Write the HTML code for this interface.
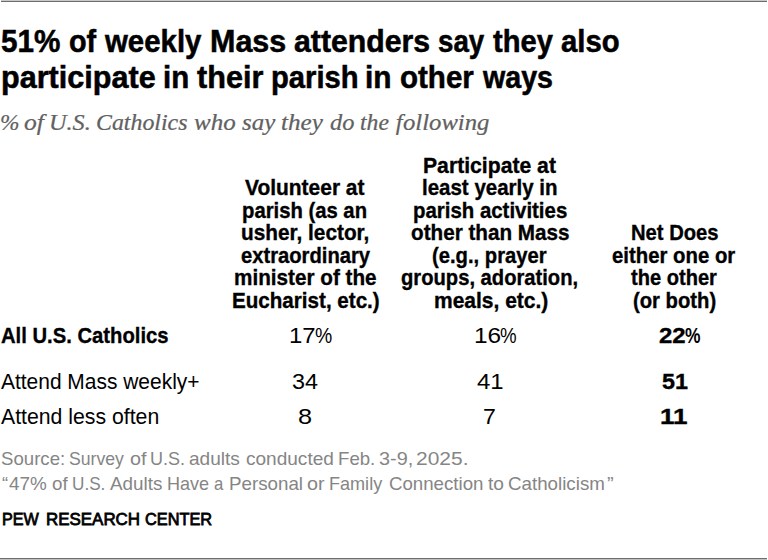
<!DOCTYPE html>
<html><head><meta charset="utf-8"><style>
html,body{margin:0;padding:0;background:#fff;}
body{width:768px;height:560px;position:relative;overflow:hidden;}
.t{position:absolute;white-space:nowrap;}
.ln{position:absolute;}
</style></head><body>
<div class="ln" style="left:1px;top:0;width:766px;height:1px;background:#c8c8c8"></div>
<div class="ln" style="left:1px;top:1px;width:766px;height:1px;background:#6e6e6e"></div>
<div class="ln" style="left:0;top:558px;width:767px;height:1px;background:#6e6e6e"></div>
<div class="ln" style="left:0;top:559px;width:767px;height:1px;background:#c0c0c0"></div>
<div class="t" style="left:1.46px;top:25.00px;font:normal bold 29.5px/33px 'Liberation Sans', sans-serif;color:#000;transform:scale(1.0056,1.05);transform-origin:0 27.00px;-webkit-text-stroke:0.5px #000;">51%</div>
<div class="t" style="left:68.80px;top:25.00px;font:normal bold 29.5px/33px 'Liberation Sans', sans-serif;color:#000;transform:scale(0.9757,1.05);transform-origin:0 27.00px;-webkit-text-stroke:0.5px #000;">of</div>
<div class="t" style="left:105.42px;top:25.00px;font:normal bold 29.5px/33px 'Liberation Sans', sans-serif;color:#000;transform:scale(0.9960,1.05);transform-origin:0 27.00px;-webkit-text-stroke:0.5px #000;">weekly</div>
<div class="t" style="left:210.19px;top:25.00px;font:normal bold 29.5px/33px 'Liberation Sans', sans-serif;color:#000;transform:scale(1.0329,1.05);transform-origin:0 27.00px;-webkit-text-stroke:0.5px #000;">Mass</div>
<div class="t" style="left:294.14px;top:25.00px;font:normal bold 29.5px/33px 'Liberation Sans', sans-serif;color:#000;transform:scale(1.0254,1.05);transform-origin:0 27.00px;-webkit-text-stroke:0.5px #000;">attenders</div>
<div class="t" style="left:437.58px;top:25.00px;font:normal bold 29.5px/33px 'Liberation Sans', sans-serif;color:#000;transform:scale(0.9394,1.05);transform-origin:0 27.00px;-webkit-text-stroke:0.5px #000;">say</div>
<div class="t" style="left:492.79px;top:25.00px;font:normal bold 29.5px/33px 'Liberation Sans', sans-serif;color:#000;transform:scale(0.9866,1.05);transform-origin:0 27.00px;-webkit-text-stroke:0.5px #000;">they</div>
<div class="t" style="left:560.97px;top:25.00px;font:normal bold 29.5px/33px 'Liberation Sans', sans-serif;color:#000;transform:scale(0.9928,1.05);transform-origin:0 27.00px;-webkit-text-stroke:0.5px #000;">also</div>
<div class="t" style="left:0.96px;top:61.00px;font:normal bold 29.5px/33px 'Liberation Sans', sans-serif;color:#000;transform:scale(1.0366,1.05);transform-origin:0 27.00px;-webkit-text-stroke:0.5px #000;">participate</div>
<div class="t" style="left:163.19px;top:61.00px;font:normal bold 29.5px/33px 'Liberation Sans', sans-serif;color:#000;transform:scale(0.9979,1.05);transform-origin:0 27.00px;-webkit-text-stroke:0.5px #000;">in</div>
<div class="t" style="left:196.57px;top:61.00px;font:normal bold 29.5px/33px 'Liberation Sans', sans-serif;color:#000;transform:scale(1.0375,1.05);transform-origin:0 27.00px;-webkit-text-stroke:0.5px #000;">their</div>
<div class="t" style="left:270.75px;top:61.00px;font:normal bold 29.5px/33px 'Liberation Sans', sans-serif;color:#000;transform:scale(0.9892,1.05);transform-origin:0 27.00px;-webkit-text-stroke:0.5px #000;">parish</div>
<div class="t" style="left:365.46px;top:61.00px;font:normal bold 29.5px/33px 'Liberation Sans', sans-serif;color:#000;transform:scale(1.0114,1.05);transform-origin:0 27.00px;-webkit-text-stroke:0.5px #000;">in</div>
<div class="t" style="left:400.17px;top:61.00px;font:normal bold 29.5px/33px 'Liberation Sans', sans-serif;color:#000;transform:scale(1.0010,1.05);transform-origin:0 27.00px;-webkit-text-stroke:0.5px #000;">other</div>
<div class="t" style="left:483.12px;top:61.00px;font:normal bold 29.5px/33px 'Liberation Sans', sans-serif;color:#000;transform:scale(0.9701,1.05);transform-origin:0 27.00px;-webkit-text-stroke:0.5px #000;">ways</div>
<div class="t" style="left:395.63px;top:108.00px;font:italic normal 24.2px/27px 'Liberation Serif', serif;color:#616161;transform:scale(1.0000,0.95);transform-origin:0 22.00px;-webkit-text-stroke:0.25px #616161;">f</div>
<div class="t" style="left:0.48px;top:108.00px;font:italic normal 24.2px/27px 'Liberation Serif', serif;color:#616161;transform:scale(0.9675,0.95);transform-origin:0 22.00px;-webkit-text-stroke:0.25px #616161;">%</div>
<div class="t" style="left:24.36px;top:108.00px;font:italic normal 24.2px/27px 'Liberation Serif', serif;color:#616161;transform:scale(1.0564,0.95);transform-origin:0 22.00px;-webkit-text-stroke:0.25px #616161;">of</div>
<div class="t" style="left:49.28px;top:108.00px;font:italic normal 24.2px/27px 'Liberation Serif', serif;color:#616161;transform:scale(1.0022,0.95);transform-origin:0 22.00px;-webkit-text-stroke:0.25px #616161;">U.S.</div>
<div class="t" style="left:95.71px;top:108.00px;font:italic normal 24.2px/27px 'Liberation Serif', serif;color:#616161;transform:scale(0.9868,0.95);transform-origin:0 22.00px;-webkit-text-stroke:0.25px #616161;">Catholics</div>
<div class="t" style="left:193.50px;top:108.00px;font:italic normal 24.2px/27px 'Liberation Serif', serif;color:#616161;transform:scale(1.0340,0.95);transform-origin:0 22.00px;-webkit-text-stroke:0.25px #616161;">who</div>
<div class="t" style="left:241.71px;top:108.00px;font:italic normal 24.2px/27px 'Liberation Serif', serif;color:#616161;transform:scale(1.0295,0.95);transform-origin:0 22.00px;-webkit-text-stroke:0.25px #616161;">say</div>
<div class="t" style="left:281.39px;top:108.00px;font:italic normal 24.2px/27px 'Liberation Serif', serif;color:#616161;transform:scale(1.0404,0.95);transform-origin:0 22.00px;-webkit-text-stroke:0.25px #616161;">they</div>
<div class="t" style="left:330.19px;top:108.00px;font:italic normal 24.2px/27px 'Liberation Serif', serif;color:#616161;transform:scale(1.0089,0.95);transform-origin:0 22.00px;-webkit-text-stroke:0.25px #616161;">do</div>
<div class="t" style="left:360.46px;top:108.00px;font:italic normal 24.2px/27px 'Liberation Serif', serif;color:#616161;transform:scale(0.9785,0.95);transform-origin:0 22.00px;-webkit-text-stroke:0.25px #616161;">the</div>
<div class="t" style="left:403.18px;top:108.00px;font:italic normal 24.2px/27px 'Liberation Serif', serif;color:#616161;transform:scale(1.0204,0.95);transform-origin:0 22.00px;-webkit-text-stroke:0.25px #616161;">ollowing</div>
<div class="t" style="left:245.12px;top:175.00px;font:normal bold 22px/25px 'Liberation Sans', sans-serif;color:#000;transform:scale(0.9519,1.0);transform-origin:0 20.00px;-webkit-text-stroke:0.35px #000;">Volunteer at</div>
<div class="t" style="left:242.46px;top:198.00px;font:normal bold 22px/25px 'Liberation Sans', sans-serif;color:#000;transform:scale(0.9211,1.0);transform-origin:0 20.00px;-webkit-text-stroke:0.35px #000;">parish (as an</div>
<div class="t" style="left:240.87px;top:220.00px;font:normal bold 22px/25px 'Liberation Sans', sans-serif;color:#000;transform:scale(0.9456,1.0);transform-origin:0 20.00px;-webkit-text-stroke:0.35px #000;">usher, lector,</div>
<div class="t" style="left:240.57px;top:243.00px;font:normal bold 22px/25px 'Liberation Sans', sans-serif;color:#000;transform:scale(0.9180,1.0);transform-origin:0 20.00px;-webkit-text-stroke:0.35px #000;">extraordinary</div>
<div class="t" style="left:234.23px;top:265.00px;font:normal bold 22px/25px 'Liberation Sans', sans-serif;color:#000;transform:scale(0.9409,1.0);transform-origin:0 20.00px;-webkit-text-stroke:0.35px #000;">minister of the</div>
<div class="t" style="left:231.98px;top:288.00px;font:normal bold 22px/25px 'Liberation Sans', sans-serif;color:#000;transform:scale(0.9365,1.0);transform-origin:0 20.00px;-webkit-text-stroke:0.35px #000;">Eucharist, etc.)</div>
<div class="t" style="left:423.25px;top:153.00px;font:normal bold 22px/25px 'Liberation Sans', sans-serif;color:#000;transform:scale(0.9622,1.0);transform-origin:0 20.00px;-webkit-text-stroke:0.35px #000;">Participate at</div>
<div class="t" style="left:422.44px;top:175.00px;font:normal bold 22px/25px 'Liberation Sans', sans-serif;color:#000;transform:scale(0.9312,1.0);transform-origin:0 20.00px;-webkit-text-stroke:0.35px #000;">least yearly in</div>
<div class="t" style="left:412.95px;top:198.00px;font:normal bold 22px/25px 'Liberation Sans', sans-serif;color:#000;transform:scale(0.9274,1.0);transform-origin:0 20.00px;-webkit-text-stroke:0.35px #000;">parish activities</div>
<div class="t" style="left:411.05px;top:220.00px;font:normal bold 22px/25px 'Liberation Sans', sans-serif;color:#000;transform:scale(0.9396,1.0);transform-origin:0 20.00px;-webkit-text-stroke:0.35px #000;">other than Mass</div>
<div class="t" style="left:431.86px;top:243.00px;font:normal bold 22px/25px 'Liberation Sans', sans-serif;color:#000;transform:scale(0.9192,1.0);transform-origin:0 20.00px;-webkit-text-stroke:0.35px #000;">(e.g., prayer</div>
<div class="t" style="left:401.07px;top:265.00px;font:normal bold 22px/25px 'Liberation Sans', sans-serif;color:#000;transform:scale(0.9172,1.0);transform-origin:0 20.00px;-webkit-text-stroke:0.35px #000;">groups, adoration,</div>
<div class="t" style="left:433.51px;top:288.00px;font:normal bold 22px/25px 'Liberation Sans', sans-serif;color:#000;transform:scale(0.9543,1.0);transform-origin:0 20.00px;-webkit-text-stroke:0.35px #000;">meals, etc.)</div>
<div class="t" style="left:631.11px;top:220.00px;font:normal bold 22px/25px 'Liberation Sans', sans-serif;color:#000;transform:scale(0.9182,1.0);transform-origin:0 20.00px;-webkit-text-stroke:0.35px #000;">Net Does</div>
<div class="t" style="left:612.36px;top:243.00px;font:normal bold 22px/25px 'Liberation Sans', sans-serif;color:#000;transform:scale(0.9250,1.0);transform-origin:0 20.00px;-webkit-text-stroke:0.35px #000;">either one or</div>
<div class="t" style="left:631.42px;top:265.00px;font:normal bold 22px/25px 'Liberation Sans', sans-serif;color:#000;transform:scale(0.9123,1.0);transform-origin:0 20.00px;-webkit-text-stroke:0.35px #000;">the other</div>
<div class="t" style="left:633.16px;top:288.00px;font:normal bold 22px/25px 'Liberation Sans', sans-serif;color:#000;transform:scale(0.9199,1.0);transform-origin:0 20.00px;-webkit-text-stroke:0.35px #000;">(or both)</div>
<div class="t" style="left:0.87px;top:323.00px;font:normal bold 22.5px/25px 'Liberation Sans', sans-serif;color:#000;transform:scale(0.8992,1.0);transform-origin:0 20.00px;-webkit-text-stroke:0.35px #000;">All U.S. Catholics</div>
<div class="t" style="left:1.15px;top:369.00px;font:normal normal 22.5px/25px 'Liberation Sans', sans-serif;color:#000;transform:scale(0.9309,1.0);transform-origin:0 20.00px;">Attend Mass weekly+</div>
<div class="t" style="left:1.15px;top:404.00px;font:normal normal 22.5px/25px 'Liberation Sans', sans-serif;color:#000;transform:scale(0.9440,1.0);transform-origin:0 20.00px;">Attend less often</div>
<div class="t" style="left:289.40px;top:323.00px;font:normal normal 22.5px/25px 'Liberation Sans', sans-serif;color:#000;transform:scale(1.0649,1.0);transform-origin:0 20.00px;">17</div>
<div class="t" style="left:315.22px;top:323.00px;font:normal normal 22.5px/25px 'Liberation Sans', sans-serif;color:#000;transform:scale(0.8618,1.0);transform-origin:0 20.00px;">%</div>
<div class="t" style="left:291.62px;top:369.00px;font:normal normal 22.5px/25px 'Liberation Sans', sans-serif;color:#000;transform:scale(1.0377,1.0);transform-origin:0 20.00px;">34</div>
<div class="t" style="left:298.12px;top:404.00px;font:normal normal 22.5px/25px 'Liberation Sans', sans-serif;color:#000;transform:scale(1.1253,1.0);transform-origin:0 20.00px;">8</div>
<div class="t" style="left:473.57px;top:323.00px;font:normal normal 22.5px/25px 'Liberation Sans', sans-serif;color:#000;transform:scale(1.0837,1.0);transform-origin:0 20.00px;">16</div>
<div class="t" style="left:500.05px;top:323.00px;font:normal normal 22.5px/25px 'Liberation Sans', sans-serif;color:#000;transform:scale(0.8293,1.0);transform-origin:0 20.00px;">%</div>
<div class="t" style="left:476.66px;top:369.00px;font:normal normal 22.5px/25px 'Liberation Sans', sans-serif;color:#000;transform:scale(1.0641,1.0);transform-origin:0 20.00px;">41</div>
<div class="t" style="left:482.95px;top:404.00px;font:normal normal 22.5px/25px 'Liberation Sans', sans-serif;color:#000;transform:scale(1.0256,1.0);transform-origin:0 20.00px;">7</div>
<div class="t" style="left:658.74px;top:323.00px;font:normal bold 22.5px/25px 'Liberation Sans', sans-serif;color:#000;transform:scale(1.0645,1.0);transform-origin:0 20.00px;-webkit-text-stroke:0.35px #000;">22</div>
<div class="t" style="left:685.16px;top:323.00px;font:normal bold 22.5px/25px 'Liberation Sans', sans-serif;color:#000;transform:scale(0.7748,1.0);transform-origin:0 20.00px;">%</div>
<div class="t" style="left:661.68px;top:369.00px;font:normal bold 22.5px/25px 'Liberation Sans', sans-serif;color:#000;transform:scale(1.0367,1.0);transform-origin:0 20.00px;-webkit-text-stroke:0.35px #000;">51</div>
<div class="t" style="left:660.15px;top:404.00px;font:normal bold 22.5px/25px 'Liberation Sans', sans-serif;color:#000;transform:scale(1.1583,1.0);transform-origin:0 20.00px;-webkit-text-stroke:0.35px #000;">11</div>
<div class="t" style="left:0.76px;top:449.00px;font:normal normal 17.8px/20px 'Liberation Sans', sans-serif;color:#858585;transform:scale(1.0472,1.0);transform-origin:0 16.00px;">Source:</div>
<div class="t" style="left:68.71px;top:449.00px;font:normal normal 17.8px/20px 'Liberation Sans', sans-serif;color:#858585;transform:scale(0.9916,1.0);transform-origin:0 16.00px;">Survey</div>
<div class="t" style="left:129.76px;top:449.00px;font:normal normal 17.8px/20px 'Liberation Sans', sans-serif;color:#858585;transform:scale(1.1094,1.0);transform-origin:0 16.00px;">of</div>
<div class="t" style="left:150.30px;top:449.00px;font:normal normal 17.8px/20px 'Liberation Sans', sans-serif;color:#858585;transform:scale(1.0130,1.0);transform-origin:0 16.00px;">U.S.</div>
<div class="t" style="left:189.19px;top:449.00px;font:normal normal 17.8px/20px 'Liberation Sans', sans-serif;color:#858585;transform:scale(1.0715,1.0);transform-origin:0 16.00px;">adults</div>
<div class="t" style="left:245.59px;top:449.00px;font:normal normal 17.8px/20px 'Liberation Sans', sans-serif;color:#858585;transform:scale(1.0706,1.0);transform-origin:0 16.00px;">conducted</div>
<div class="t" style="left:337.86px;top:449.00px;font:normal normal 17.8px/20px 'Liberation Sans', sans-serif;color:#858585;transform:scale(1.0483,1.0);transform-origin:0 16.00px;">Feb.</div>
<div class="t" style="left:379.25px;top:449.00px;font:normal normal 17.8px/20px 'Liberation Sans', sans-serif;color:#858585;transform:scale(1.1166,1.0);transform-origin:0 16.00px;">3-9,</div>
<div class="t" style="left:416.35px;top:449.00px;font:normal normal 17.8px/20px 'Liberation Sans', sans-serif;color:#858585;transform:scale(1.1795,1.0);transform-origin:0 16.00px;">2025.</div>
<div class="t" style="left:2.42px;top:474.00px;font:normal normal 17.8px/20px 'Liberation Sans', sans-serif;color:#858585;transform:scale(1.0254,1.0);transform-origin:0 16.00px;">“</div>
<div class="t" style="left:8.98px;top:474.00px;font:normal normal 17.8px/20px 'Liberation Sans', sans-serif;color:#858585;transform:scale(1.0601,1.0);transform-origin:0 16.00px;">47%</div>
<div class="t" style="left:51.50px;top:474.00px;font:normal normal 17.8px/20px 'Liberation Sans', sans-serif;color:#858585;transform:scale(1.0563,1.0);transform-origin:0 16.00px;">of</div>
<div class="t" style="left:72.07px;top:474.00px;font:normal normal 17.8px/20px 'Liberation Sans', sans-serif;color:#858585;transform:scale(0.9640,1.0);transform-origin:0 16.00px;">U.S.</div>
<div class="t" style="left:110.15px;top:474.00px;font:normal normal 17.8px/20px 'Liberation Sans', sans-serif;color:#858585;transform:scale(1.0591,1.0);transform-origin:0 16.00px;">Adults</div>
<div class="t" style="left:167.41px;top:474.00px;font:normal normal 17.8px/20px 'Liberation Sans', sans-serif;color:#858585;transform:scale(1.0142,1.0);transform-origin:0 16.00px;">Have</div>
<div class="t" style="left:214.29px;top:474.00px;font:normal normal 17.8px/20px 'Liberation Sans', sans-serif;color:#858585;transform:scale(0.9381,1.0);transform-origin:0 16.00px;">a</div>
<div class="t" style="left:229.05px;top:474.00px;font:normal normal 17.8px/20px 'Liberation Sans', sans-serif;color:#858585;transform:scale(1.0548,1.0);transform-origin:0 16.00px;">Personal</div>
<div class="t" style="left:307.26px;top:474.00px;font:normal normal 17.8px/20px 'Liberation Sans', sans-serif;color:#858585;transform:scale(1.1101,1.0);transform-origin:0 16.00px;">or</div>
<div class="t" style="left:329.31px;top:474.00px;font:normal normal 17.8px/20px 'Liberation Sans', sans-serif;color:#858585;transform:scale(1.0156,1.0);transform-origin:0 16.00px;">Family</div>
<div class="t" style="left:388.57px;top:474.00px;font:normal normal 17.8px/20px 'Liberation Sans', sans-serif;color:#858585;transform:scale(1.0497,1.0);transform-origin:0 16.00px;">Connection</div>
<div class="t" style="left:487.81px;top:474.00px;font:normal normal 17.8px/20px 'Liberation Sans', sans-serif;color:#858585;transform:scale(1.0766,1.0);transform-origin:0 16.00px;">to</div>
<div class="t" style="left:508.26px;top:474.00px;font:normal normal 17.8px/20px 'Liberation Sans', sans-serif;color:#858585;transform:scale(1.0541,1.0);transform-origin:0 16.00px;">Catholicism</div>
<div class="t" style="left:606.95px;top:474.00px;font:normal normal 17.8px/20px 'Liberation Sans', sans-serif;color:#858585;transform:scale(1.1236,1.0);transform-origin:0 16.00px;">”</div>
<div class="t" style="left:1.57px;top:510.00px;font:normal normal 17px/19px 'Liberation Sans', sans-serif;color:#000;transform:scale(0.9498,1.0);transform-origin:0 15.00px;-webkit-text-stroke:0.8px #000;">PEW</div>
<div class="t" style="left:45.60px;top:510.00px;font:normal normal 17px/19px 'Liberation Sans', sans-serif;color:#000;transform:scale(0.9959,1.0);transform-origin:0 15.00px;-webkit-text-stroke:0.8px #000;">RESEARCH</div>
<div class="t" style="left:144.68px;top:510.00px;font:normal normal 17px/19px 'Liberation Sans', sans-serif;color:#000;transform:scale(0.9611,1.0);transform-origin:0 15.00px;-webkit-text-stroke:0.8px #000;">CENTER</div>
</body></html>
